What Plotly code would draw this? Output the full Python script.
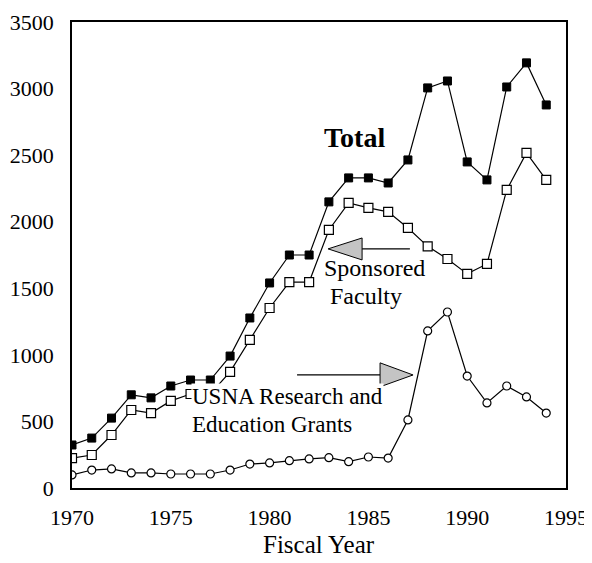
import plotly.graph_objects as go

years = list(range(1970, 1995))
total = [323, 375, 525, 700, 677, 766, 811, 811, 991, 1277, 1540, 1750, 1750,
         2149, 2329, 2329, 2291, 2464, 3005, 3057, 2449, 2314, 3012, 3193, 2877]
sponsored = [225, 248, 398, 586, 563, 654, 706, 706, 872, 1112, 1352, 1547, 1547,
             1938, 2141, 2104, 2074, 1953, 1815, 1720, 1608, 1683, 2239, 2517, 2314]
usna = [98, 135, 143, 113, 113, 105, 105, 105, 135, 180, 188, 205, 218,
        228, 198, 233, 225, 511, 1180, 1322, 841, 639, 766, 684, 563]

x_ticks = [1970, 1975, 1980, 1985, 1990, 1995]
y_ticks = [0, 500, 1000, 1500, 2000, 2500, 3000, 3500]

FONT = "Liberation Serif, Times New Roman, serif"

fig = go.Figure()
fig.add_trace(go.Scatter(x=years, y=total, mode="lines+markers", name="Total",
                         line=dict(color="black", width=1.2),
                         marker=dict(symbol="square", size=8, color="black",
                                     line=dict(color="black", width=1))))
fig.add_trace(go.Scatter(x=years, y=sponsored, mode="lines+markers", name="Sponsored Faculty",
                         line=dict(color="black", width=1.2),
                         marker=dict(symbol="square", size=9, color="white",
                                     line=dict(color="black", width=1.2))))
fig.add_trace(go.Scatter(x=years, y=usna, mode="lines+markers", name="USNA Research and Education Grants",
                         line=dict(color="black", width=1.2),
                         marker=dict(symbol="circle", size=8, color="white",
                                     line=dict(color="black", width=1.2))))

# Arrows (decorations)
fig.add_shape(type="line", x0=1984.68, y0=1796, x1=1987.1, y1=1796,
              line=dict(color="black", width=1.2))
fig.add_shape(type="path", path="M 1982.96 1796 L 1984.68 1878 L 1984.68 1713 Z",
              fillcolor="#c4c4c4", line=dict(color="black", width=1))
fig.add_shape(type="line", x0=1981.39, y0=849, x1=1985.59, y1=849,
              line=dict(color="black", width=1.2))
fig.add_shape(type="path", path="M 1987.26 849 L 1985.59 940 L 1985.59 760 Z",
              fillcolor="#c4c4c4", line=dict(color="black", width=1))

fig.add_annotation(x=1984.3, y=2630, text="<b>Total</b>", showarrow=False,
                   font=dict(family=FONT, size=28, color="black"))
fig.add_annotation(x=1985.3, y=1650, text="Sponsored", showarrow=False,
                   font=dict(family=FONT, size=24, color="black"))
fig.add_annotation(x=1984.9, y=1440, text="Faculty", showarrow=False,
                   font=dict(family=FONT, size=24, color="black"))
fig.add_annotation(x=1976.0, y=685, xanchor="left", text="USNA Research and",
                   showarrow=False, bgcolor="white", borderpad=0,
                   font=dict(family=FONT, size=23, color="black"))
fig.add_annotation(x=1976.0, y=475, xanchor="left", text="Education Grants",
                   showarrow=False, bgcolor="white", borderpad=0,
                   font=dict(family=FONT, size=23, color="black"))
fig.add_annotation(x=0.5, y=-0.121, xref="paper", yref="paper", text="Fiscal Year",
                   showarrow=False, yanchor="middle",
                   font=dict(family=FONT, size=25, color="black"))

# page body has an 8px default margin, so the figure is sized to fit the window
fig.update_layout(
    width=584, height=555,
    margin=dict(l=64, r=26, t=14, b=75),
    paper_bgcolor="white", plot_bgcolor="white",
    showlegend=False,
    font=dict(family=FONT, color="black"),
)
fig.update_xaxes(range=[1970, 1995], tickvals=x_ticks, ticks="", showgrid=False,
                 zeroline=False, showline=True, mirror=True, linecolor="black", linewidth=1.5,
                 tickfont=dict(family=FONT, size=22, color="black"), ticklabelstandoff=9,
                 automargin=False)
fig.update_yaxes(range=[0, 3500], tickvals=y_ticks, ticks="", showgrid=False,
                 zeroline=False, showline=True, mirror=True, linecolor="black", linewidth=1.5,
                 tickfont=dict(family=FONT, size=22, color="black"), ticklabelstandoff=12,
                 automargin=False)

fig.write_html("out.html")
